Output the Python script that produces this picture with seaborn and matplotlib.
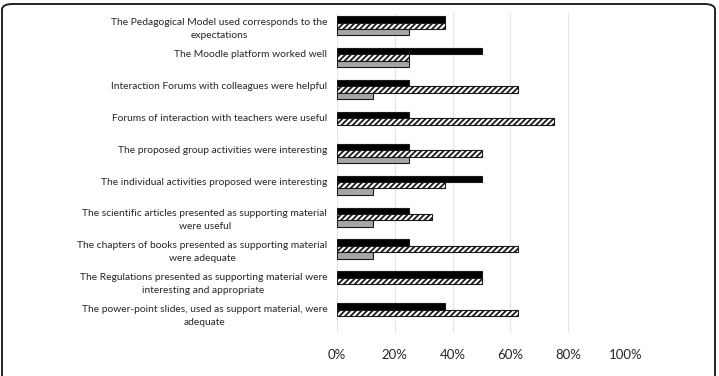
import numpy as np
import pandas as pd
import matplotlib
matplotlib.use('Agg')
import matplotlib.pyplot as plt
import seaborn as sns
from matplotlib.patches import FancyBboxPatch

# survey statements (top to bottom) and share of answers per option
statements = [
    'The Pedagogical Model used corresponds to the\nexpectations',
    'The Moodle platform worked well',
    'Interaction Forums with colleagues were helpful',
    'Forums of interaction with teachers were useful',
    'The proposed group activities were interesting',
    'The individual activities proposed were interesting',
    'The scientific articles presented as supporting material\nwere useful',
    'The chapters of books presented as supporting material\nwere adequate',
    'The Regulations presented as supporting material were\ninteresting and appropriate',
    'The power-point slides, used as support material, were\nadequate',
]
series_names = ['Totally agree', 'Agree', 'Neither agree nor disagree', 'Disagree']
totally_agree = [0.375, 0.50, 0.25, 0.25, 0.25, 0.50, 0.25, 0.25, 0.50, 0.375]
agree = [0.375, 0.25, 0.625, 0.75, 0.50, 0.375, 0.33, 0.625, 0.50, 0.625]
neutral = [0.25, 0.25, 0.125, 0.0, 0.25, 0.125, 0.125, 0.125, 0.0, 0.0]
disagree = [0.0, 0.0, 0.0, 0.0, 0.0, 0.0, 0.0, 0.0, 0.0, 0.0]
x_ticks = [0, 0.2, 0.4, 0.6, 0.8, 1.0]

n = len(statements)
df = pd.DataFrame({
    'statement': statements * 4,
    'series': [s for s in series_names for _ in range(n)],
    'value': totally_agree + agree + neutral + disagree,
})

sns.set_style('white')
plt.rcParams['font.family'] = ['Lato', 'DejaVu Sans']
plt.rcParams['hatch.linewidth'] = 1.3

fig = plt.figure(figsize=(7.19, 3.76), dpi=100)
ax = fig.add_axes([337 / 719, 1 - 332 / 376, (626 - 337) / 719, (332 - 13) / 376])

palette = {series_names[0]: '#000000', series_names[1]: '#ffffff',
           series_names[2]: '#a5a5a5', series_names[3]: '#ffffff'}
sns.barplot(data=df, y='statement', x='value', hue='series', order=statements,
            hue_order=series_names, palette=palette, orient='h', width=0.8,
            edgecolor='#1a1a1a', linewidth=0.8, legend=False, ax=ax, zorder=3)

# hatch the second series, hide empty bars
for i, bar in enumerate(ax.patches):
    if n <= i < 2 * n:
        bar.set_hatch('//////')
    if bar.get_width() == 0:
        bar.set_linewidth(0)

ax.set_xlim(0, 1)
ax.set_xticks(x_ticks)
ax.set_xticklabels([f'{int(t * 100)}%' for t in x_ticks], fontsize=9.5, color='#262626')
ax.tick_params(axis='x', length=0, pad=12)
ax.tick_params(axis='y', length=0, pad=7)
# Excel keeps room for two lines per label, one-liners sit on the top line
ax.set_yticks(range(n))
ax.set_yticklabels([s if '\n' in s else s + '\n ' for s in statements])
for lab in ax.get_yticklabels():
    lab.set_fontsize(7.4)
    lab.set_color('#262626')
    lab.set_multialignment('center')
    lab.set_linespacing(1.55)
    lab.set_verticalalignment('center')
ax.set_xlabel('')
ax.set_ylabel('')
ax.grid(axis='x', color='#e3e3e3', linewidth=0.8, zorder=0)
for s in ax.spines.values():
    s.set_visible(False)

# rounded outer frame of the chart
frame = FancyBboxPatch((2 / 719, -0.2), 713 / 719, 1.2 - 4 / 376,
                       boxstyle='round,pad=0,rounding_size=0.015',
                       transform=fig.transFigure, fill=False,
                       edgecolor='#222222', linewidth=1.4, clip_on=False)
fig.patches.append(frame)

fig.savefig('out.png', dpi=100)
